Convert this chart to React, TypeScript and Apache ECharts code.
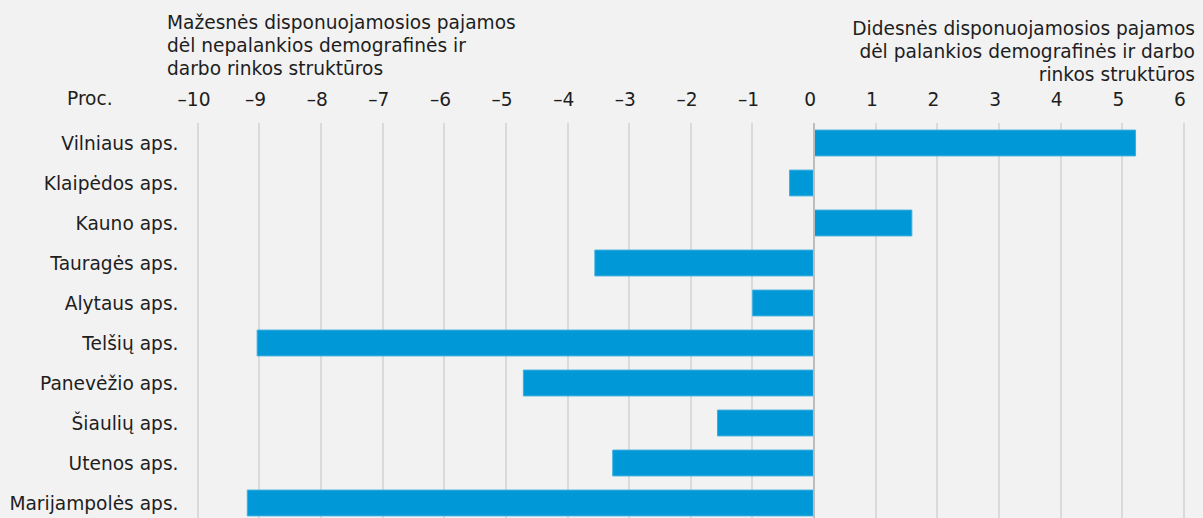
import React, { useEffect, useRef } from "react";
import * as echarts from "echarts";

const categories = [
  "Vilniaus aps.",
  "Klaipėdos aps.",
  "Kauno aps.",
  "Tauragės aps.",
  "Alytaus aps.",
  "Telšių aps.",
  "Panevėžio aps.",
  "Šiaulių aps.",
  "Utenos aps.",
  "Marijampolės aps.",
];
const values = [5.23, -0.4, 1.6, -3.56, -1.0, -9.04, -4.72, -1.57, -3.27, -9.2];

const leftTitle = [
  "Mažesnės disponuojamosios pajamos",
  "dėl nepalankios demografinės ir",
  "darbo rinkos struktūros",
];
const rightTitle = [
  "Didesnės disponuojamosios pajamos",
  "dėl palankios demografinės ir darbo",
  "rinkos struktūros",
];
const unitLabel = "Proc.";

const FONT = "DejaVu Sans";
const FS = 18.6;
const TEXT = "#1e1e1e";

export default function App() {
  const ref = useRef<HTMLDivElement>(null);
  useEffect(() => {
    if (!ref.current) return;
    const chart = echarts.init(ref.current, null, { renderer: "svg" });
    chart.setOption({
      animation: false,
      backgroundColor: "#f2f2f2",
      textStyle: { fontFamily: FONT },
      grid: { left: 197.5, right: 19.5, top: 123, bottom: 0, containLabel: false },
      xAxis: {
        type: "value",
        position: "top",
        min: -10,
        max: 6,
        interval: 1,
        axisLine: { show: false },
        axisTick: { show: false },
        axisLabel: {
          color: TEXT,
          fontSize: FS,
          fontFamily: FONT,
          margin: 14,
          padding: [0, 7, 0, 0],
          formatter: (v: number) => (v < 0 ? "–" + Math.abs(v) : String(v)),
        },
        splitLine: { show: true, lineStyle: { color: "#dadada", width: 2 } },
      },
      yAxis: {
        type: "category",
        data: categories,
        inverse: true,
        axisLine: { show: false },
        axisTick: { show: false },
        axisLabel: { color: TEXT, fontSize: FS, fontFamily: FONT, margin: 19 },
        splitLine: { show: false },
      },
      series: [
        {
          type: "bar",
          data: values,
          barCategoryGap: "33%",
          itemStyle: { color: "#0098d6", borderColor: "#3aaee0", borderWidth: 1 },
          markLine: {
            silent: true,
            symbol: "none",
            label: { show: false },
            lineStyle: { color: "#bdbdbd", width: 2, type: "solid" },
            data: [{ xAxis: 0 }],
          },
        },
      ],
      graphic: [
        {
          type: "text",
          left: 167,
          top: 11,
          style: {
            text: leftTitle.join("\n"),
            fill: TEXT,
            font: `${FS}px "${FONT}"`,
            lineHeight: 23,
            textAlign: "left",
          },
        },
        {
          type: "text",
          right: 8,
          top: 17,
          style: {
            text: rightTitle.join("\n"),
            fill: TEXT,
            font: `${FS}px "${FONT}"`,
            lineHeight: 23,
            textAlign: "right",
          },
        },
        {
          type: "text",
          left: 67,
          top: 89,
          style: {
            text: unitLabel,
            fill: TEXT,
            font: `${FS}px "${FONT}"`,
          },
        },
      ],
    });
    return () => chart.dispose();
  }, []);
  return (
    <div
      ref={ref}
      style={{ position: "fixed", left: 0, top: 0, width: 1203, height: 523 }}
    />
  );
}
